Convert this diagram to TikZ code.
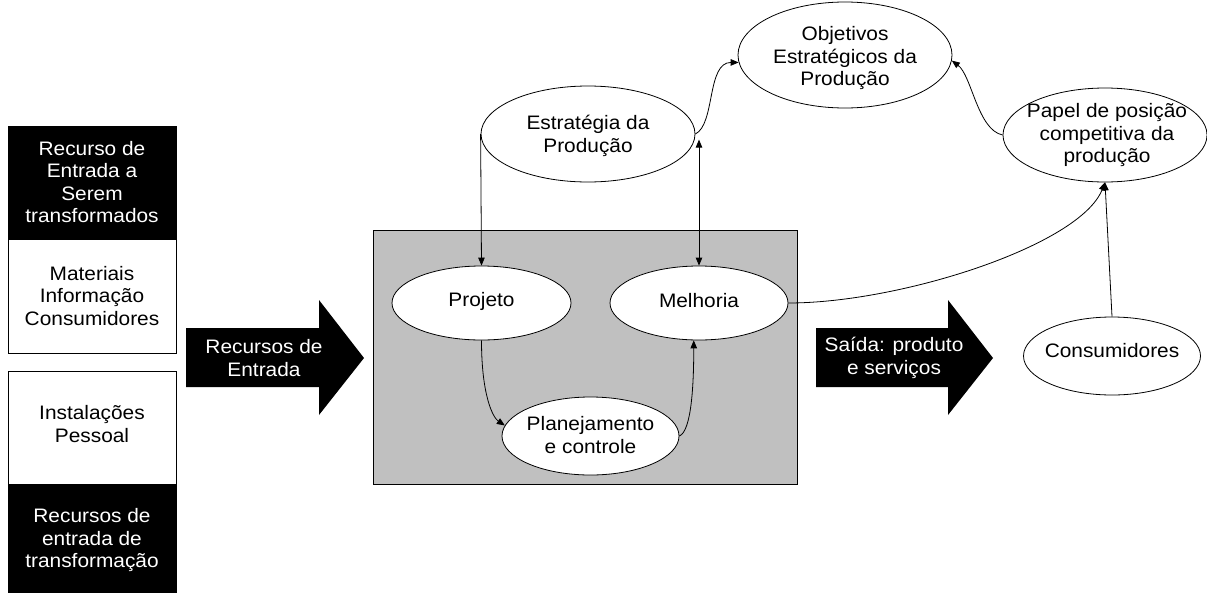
\documentclass[tikz,border=0pt]{standalone}
\usepackage{fontspec}
\setmainfont[FakeStretch=1.07]{Liberation Sans}
\usetikzlibrary{shapes.geometric,arrows.meta}
\definecolor{boxgray}{HTML}{C0C0C0}
\begin{document}
\begin{tikzpicture}[x=1pt,y=-1pt,
  txt/.style={align=center,font=\fontsize{19.5}{22.4}\selectfont,inner sep=0pt},
  ell/.style={ellipse,draw=black,fill=white,line width=0.8pt,inner sep=0pt},
  con/.style={line width=0.8pt,-{Triangle[length=8pt,width=6.5pt]}},
  blk/.style={fill=black},
]
\useasboundingbox (0,0) rectangle (1207,592);

% left column
\fill[black] (8,126) rectangle (176,240);
\draw[line width=0.8pt] (8,126) rectangle (176,353);
\fill[black] (8,484) rectangle (176,592);
\draw[line width=0.8pt] (8,371) rectangle (176,592);
\node[txt,text=white] (rt) at (92,182) {Recurso de\\Entrada a\\Serem\\transformados};
\node[txt] (mat) at (92,296) {Materiais\\Informação\\Consumidores};
\node[txt] (inst) at (92,424) {Instalações\\Pessoal};
\node[txt,text=white] (rec) at (92,540) {Recursos de\\entrada de\\transformação};

% input arrow
\fill[blk] (186,328) -- (319,328) -- (319,300) -- (364,358) -- (319,415) -- (319,387) -- (186,387) -- cycle;
\node[txt,text=white] (a1) at (264,358) {Recursos de\\Entrada};

% output arrow
\fill[blk] (816,328) -- (948,328) -- (948,300) -- (993,358) -- (948,415) -- (948,387) -- (816,387) -- cycle;
\node[txt,text=white] (a2) at (894,358) {Saída: produto\\e serviços};

% process box
\draw[fill=boxgray,line width=0.8pt] (373,230) rectangle (797,484);

% ellipses
\node[ell,minimum width=179pt,minimum height=74pt,label={[txt,yshift=2pt]center:Projeto}] (proj) at (481.5,303) {};
\node[ell,minimum width=178pt,minimum height=74pt,label={[txt,yshift=2pt]center:Melhoria}] (mel) at (699,303) {};
\node[ell,minimum width=177pt,minimum height=78pt,label={[txt,yshift=1pt]center:{Planejamento\\e controle}}] (plan) at (590.5,436) {};
\node[ell,minimum width=214pt,minimum height=96pt,label={[txt,yshift=-2pt]center:{Estratégia da\\Produção}}] (est) at (588,134) {};
\node[ell,minimum width=214pt,minimum height=106pt,label={[txt,yshift=-3pt]center:{Objetivos\\Estratégicos da\\Produção}}] (obj) at (845,55) {};
\node[ell,minimum width=204pt,minimum height=94pt,label={[txt,xshift=2pt]center:{Papel de posição\\competitiva da\\produção}}] (pap) at (1105,135) {};
\node[ell,minimum width=177pt,minimum height=78pt,label={[txt,yshift=5pt]center:Consumidores}] (cons) at (1112,356) {};

% connectors
\draw[con] (est.west) -- (proj.north);
\draw[con,{Triangle[length=8pt,width=6.5pt]}-{Triangle[length=8pt,width=6.5pt]}] (mel.north |- est.-3) -- (mel.north);
\draw[con] (est.east) .. controls +(20,-10) and +(-32,0) .. (obj.184);
\draw[con] (pap.west) .. controls +(-25,-5) and +(20,15) .. (obj.-3);
\draw[con] (proj.south) .. controls +(0,55) and +(-12,-8) .. (plan.173);
\draw[con] (plan.east) .. controls +(12,-5) and +(0,45) .. (mel.262);
\draw[con] (mel.east) .. controls +(112,0) and +(-25,63) .. (pap.south);
\draw[con] (cons.north) -- (pap.south);
\end{tikzpicture}
\end{document}
